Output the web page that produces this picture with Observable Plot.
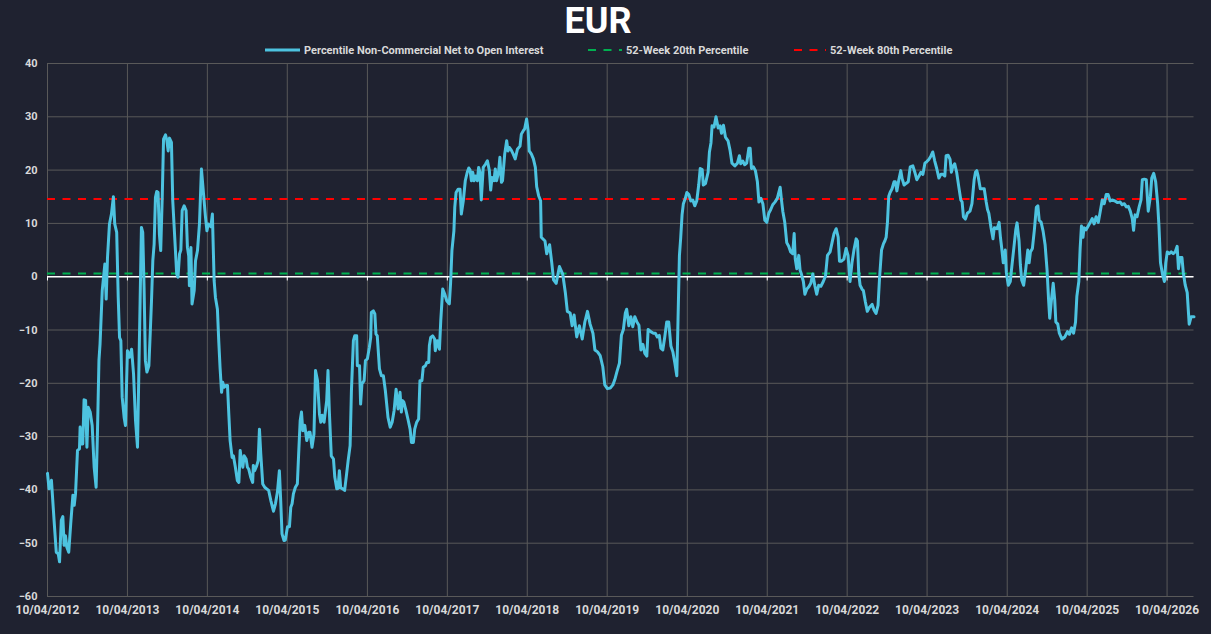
<!DOCTYPE html>
<html><head><meta charset="utf-8">
<script src="https://cdn.jsdelivr.net/npm/d3@7"></script>
<script src="https://cdn.jsdelivr.net/npm/@observablehq/plot@0.6"></script>
<style>
html,body{margin:0;padding:0;background:#1f2230;width:1211px;height:634px;overflow:hidden;font-family:Roboto,"DejaVu Sans",sans-serif}
#head{position:absolute;left:0;top:0}
#chart{position:absolute;left:0;top:58px}
</style></head>
<body>
<svg id="head" width="1211" height="58"></svg>
<div id="chart"></div>
<script>
const title = "EUR";
const seriesNames = ["Percentile Non-Commercial Net to Open Interest", "52-Week 20th Percentile", "52-Week 80th Percentile"];
const startDate = "10/04/2012";
const xTicks = ["10/04/2012","10/04/2013","10/04/2014","10/04/2015","10/04/2016","10/04/2017","10/04/2018","10/04/2019","10/04/2020","10/04/2021","10/04/2022","10/04/2023","10/04/2024","10/04/2025","10/04/2026"];
const yTicks = [-60,-50,-40,-30,-20,-10,0,10,20,30,40];
const pct20 = 0.6;
const pct80 = 14.6;
// weeks since start date
const weeks = [0,1,2.6,4.3,5.7,7,7.8,9,10,10.9,11.7,12.6,13.9,15.2,16.5,17.4,18.3,19.6,20.9,21.3,22.2,23,23.9,24.8,25.7,26.5,27.8,29.1,30.4,31.7,32.6,33.5,34.3,35.7,36.5,37.4,38.3,39.1,40.4,41.7,43,43.9,45.2,46.1,47,47.8,48.7,50,50.9,52.2,53.5,54.8,56.1,57.4,58.7,59.6,60.4,61.3,62.2,63,63.9,64.8,66.1,67,67.8,68.7,69.6,70.4,71.3,72.2,73,73.9,74.8,75.7,77,77.8,78.7,79.6,80.9,81.7,83,84.3,85.2,86.1,87,87.8,89.1,90.4,91.3,92.2,92.6,93.5,94.3,95.7,96.5,97.8,99.1,100.4,101.7,103,104,104.8,106.5,107.6,108.7,109.6,110.9,111.7,112.6,113.5,114.3,115.2,116.5,117.4,118.3,119.1,120.4,121.3,122.6,123.9,124.8,125.7,126.5,127.4,128.3,129.6,130.4,131.3,132.6,133.9,134.3,135.2,136.5,137.4,138.3,139.1,140.4,141.7,143,144.3,145.7,147.4,148.7,150,151.3,152.2,153,154.3,155.2,156.5,157.8,158.7,159.6,160.4,161.7,163,163.9,164.8,165.7,166.5,167.8,169.1,170.4,171.3,172.6,173.9,174.8,176.1,177.4,178.3,179.1,180.4,182.2,183,183.9,185.2,186.5,187.4,188.7,189.6,190.4,191.3,192.6,193.9,195.2,196.1,197.4,198.3,199.6,200.4,201.7,202.2,203.5,204.3,205.2,206.5,207.4,208.7,210,210.9,211.3,212.6,213.5,214.3,215.2,216.5,217.8,219.1,220.4,222.2,223.5,224.8,226.1,227.4,228.7,230,230.9,231.7,232.6,233.9,235.2,236.5,237.4,238.7,239.6,240.9,242.2,243,244.3,245.2,246.5,247.4,248.7,249.1,250,251.3,252.6,253,254.3,255.7,256.5,257.8,259.1,260.4,262.2,263,263.9,265.2,265.7,266.5,267.8,269.1,270,271.3,272.6,273.9,274.8,275.7,276.5,277.4,278.3,279.1,280.4,281.3,282.2,283,284.3,285.7,287,288.3,289.1,290,291.3,292.2,293,294.3,295.2,296.1,296.9,298.3,299.6,300.4,301.3,302.6,303.9,305.2,306.5,308.3,309.1,310.4,311.3,312.6,313.5,314.3,315.7,317,318.3,319.1,320.4,321.7,322.2,324.6,325.7,327.5,329,330.1,331.8,334,336.2,337.9,339.2,341,342.3,343.6,345.3,347,348.8,350.6,352.3,354,355.8,357.1,358.8,360.5,362.3,363.6,365.3,367.1,368.8,370.1,371.4,373.1,374.4,375.7,377,377.9,379.3,380.6,381.9,383.2,384.5,385.8,387.1,388.4,389.7,391,391.9,393.6,395.3,396.6,397.9,399.2,400.2,401.4,402.7,404,405.3,406.7,408,409.3,410.6,411.4,412.3,413.2,414,414.9,416.2,417.1,418.4,419.7,421,422.3,423.6,424.9,425.8,427.1,427.9,429.3,431,431.8,432.8,433.6,434.9,436.2,437.5,438.8,439.7,441,442.3,444,445.3,446.6,448.4,450.1,451.4,452.3,453.6,454.9,456.2,457.5,458.4,459.3,460.6,461.8,463.1,464.1,465.4,466.7,468,469.3,470.6,471.9,473.2,474.5,476.2,478,478.8,479.7,481,482.3,483.6,484.9,486.2,487.1,487.9,488.8,490.2,491,491.9,493.2,494.1,495.4,496.7,498,499.3,500.6,501.9,503.2,504.5,506.2,507.5,508.8,510.6,511.9,513.2,514.5,515.8,516.7,518,519.6,521,522.3,523.6,524.9,526.2,527.5,528.4,529.3,530.2,531.5,532.3,533.6,534.9,536.2,538,539.3,540.6,541.9,542.8,544.1,545.4,546.3,547.1,548,548.9,549.7,551,552.3,553.2,554.1,555.4,556.7,557.6,558.9,560.2,561.5,562.8,564.6,565.9,567.2,568.5,569.8,571.1,572.4,573.7,575,576.3,577.6,578.9,580.2,581.5,582.8,584.1,585.4,586.3,587.6,588.9,589.7,590.6,591.9,593.2,594.5,595.8,596.7,597.6,598.9,600.1,601.9,603.2,604.5,605.4,606.3,607.2,608.5,609.8,611.1,612.4,613.3,614.2,615.5,616.8,617.7,619.5,620.8,621.7,622.5,623.5,624.8,625.6,626.9,628.2,629.1,630.4,631.7,632.6,633.9,634.7,635.6,636.9,638.2,639.5,640.4,641.3,642.6,643.9,645.2,646.1,647,648.3,649.6,650.9,652.2,653.1,653.9,654.9,656.2,657.1,657.9,659.2,660.2,661.9,663.7,665.4,666.7,668.1,669.4,670.7,671.5,672.9,673.7,674.6,675.5,676.3,677.6,679,680.3,681.6,682.9,684.2,685.5,686.8,688.1,689.4,690.7,692,693.3,694.6,696.4,698.2,699.9,701.2,702.5,703.8,705.1,706.4,707.7,708.6,709.5,710.8,712.1,713.4,714.3,715.6,716.9,718.2,719.5,720.4,721.7,723,724.3,725.2,726.1,727.4,728.7,729.6,730.5,731.8,733.1,734.4,735.7,737,737.9,738.8,740.1,741,742.3,743.6,744.9,746.2,748];
const values = [-36.9,-39.8,-38.2,-45.7,-51.7,-52,-53.5,-45.7,-45,-50.4,-48.6,-50.7,-51.7,-46.4,-41,-42.9,-40.7,-32.6,-32.3,-28.2,-31.4,-31.4,-23.1,-23.2,-32,-24.5,-25.4,-27.9,-35.7,-39.5,-29.5,-15.7,-12.6,-2.6,-0.1,2.4,-4.2,3.6,9.9,11.75,15,9.9,8.3,-3.9,-11.4,-12,-22.6,-26.4,-27.9,-13.9,-15.1,-13.6,-18.3,-27,-32,-18.3,-4.5,9.25,8.3,-2,-15.7,-17.9,-16.7,-10.75,-4.5,3,6.1,14.9,16,15.8,8,4.9,14.9,25.8,26.6,25.6,23.6,26,25.2,14.25,7.4,0.5,-0.1,4.25,5,12.4,13.3,12.4,5.5,3.9,-1.7,5.5,-5.1,-2.6,3,4.9,9.9,20.2,15.8,11.4,8.6,9.9,9.4,11.75,-0.75,-3.9,-6.1,-12,-17,-21.7,-19.8,-20.75,-20.4,-20.4,-25.75,-30.75,-33.9,-33.6,-35.75,-38.25,-38.6,-32.6,-34.5,-35.75,-33.6,-34.2,-35.75,-36.1,-37.6,-38.6,-35.4,-36.4,-35.4,-34.5,-28.6,-33.25,-38.9,-39.5,-39.8,-40.1,-42,-44,-42.6,-40.4,-36.4,-42,-48.25,-49.5,-49.4,-46.9,-46.9,-43.25,-42.6,-40.75,-39.5,-38.9,-33.25,-27,-25.4,-28.9,-27.9,-30.75,-29.2,-29.2,-32,-29.5,-17.6,-19.5,-25.75,-27.3,-26,-27.3,-23.25,-17.6,-25.1,-33.6,-34.2,-37.6,-39.8,-39.7,-36.4,-39.6,-39.8,-40.1,-37,-34.5,-31.7,-21.4,-12,-11.1,-11.1,-16.7,-16.7,-23.9,-20.1,-19.5,-15.75,-15.4,-13.25,-11.4,-6.7,-6.4,-7,-10.75,-11.1,-17.3,-18.6,-18.6,-21.4,-26.4,-28.25,-27.3,-25.1,-21.1,-24.8,-21.7,-25.4,-23.25,-23.6,-25.1,-26.7,-28.6,-31.1,-31.1,-28.6,-27.3,-26.7,-19.5,-19.5,-17,-16.7,-16.1,-16.1,-12.9,-11.4,-11.1,-11.7,-13.9,-12,-13.6,-8.25,-2.3,-3.25,-4.5,-5.1,-1.1,4.9,8.6,13,15.8,16.4,16.4,11.75,14.25,18,19.6,20.4,20,18,19.6,18,18.9,18,20.5,19.6,14.4,20.5,21.1,21.75,19.9,16.25,18.6,18,20.2,18,19.6,22.4,17.7,18,23,25.5,23.6,24.25,23.75,23,22.1,23.9,24.5,26.75,27.4,27.7,29.6,27.4,23.6,23,22.1,20.5,16.9,15.2,14.25,7.4,6.7,4.3,6,2.6,-0.6,-1.25,1.9,0.5,-3,-6.5,-6.8,-9.2,-7.2,-11.3,-9.2,-11.7,-8.5,-6.5,-8.9,-10.6,-13.75,-14.1,-14.8,-16.9,-20.3,-21,-20.9,-20.3,-19.3,-17.9,-16.2,-11,-9.9,-6.8,-6.1,-9.2,-7.5,-9.4,-7.5,-8.5,-9.1,-13.75,-12.7,-14.4,-14.9,-9.9,-10.3,-10.6,-10.6,-11.3,-11,-13.4,-13.75,-11.3,-8.5,-8.5,-13,-14.1,-16.2,-18.6,-7.2,4,7.4,11.6,13.7,14.7,15.8,15.4,14.2,14.4,13.3,14.2,17.2,20.3,20.1,17.2,17.5,19.6,23.4,25.1,28.3,28.1,30,27.9,28.3,26.9,28.4,26.2,25.5,23.75,21.3,20.8,21.3,22.7,21.2,21.7,21,21.3,24.1,24.1,20.3,20.6,19.9,17.8,14,14.7,13.7,10.6,10.2,11.9,12.6,13.5,14,14.7,16.8,14.4,12.3,10.2,6.4,5.7,4.65,4.3,8.1,3.3,1.5,4,1.2,0.5,-0.9,-3.3,-2.3,-1.9,-1.25,0.5,-1.6,-3.3,-1.6,-1.8,-0.9,0.1,4,4.65,6.4,8.1,9,7.4,2.9,2.9,3.3,5.3,4,-0.9,2.6,5,7.1,6.7,0.5,-1.6,-2.4,-2.6,-4.7,-6.5,-5.8,-5.2,-6.3,-6.9,-5.4,-0.2,5,6.2,6.7,7.4,10.2,15.1,15.8,16.5,17.8,17.8,16.1,18.2,19.9,18.4,17.2,17.5,17.8,20.6,20.8,19.6,18.2,18.9,19.6,19.2,21.3,21.6,22,22.6,23.4,21.7,20.3,18.5,19.2,19.2,18.9,22.7,22.8,22,19.6,20.6,21.2,19.6,16.8,14.4,14,11.25,10.8,11.9,12.3,13.7,18.2,19.6,19.9,18.9,16.5,16.5,16.5,14,12.6,11.9,9.2,7.1,9.2,9,10.2,7.4,5.3,2.6,5,0.8,-1.6,-0.9,1.9,5.3,8.8,10.1,6.7,2.2,-0.6,-1.6,1.2,5,2.6,4.65,5.3,8.8,13,13.3,10.6,10.2,8.5,6,1.2,-4.4,-7.8,-4.7,-1.25,-4.4,-8.5,-8.9,-10.6,-11.7,-11.3,-10.3,-10.8,-9.6,-10.6,-8.5,-3.7,-0.9,5.3,9.5,7.4,9.2,8.8,9.5,10.2,10.9,9.9,11.25,10.2,12.3,14.4,13.7,15.4,15.4,14.2,14.4,14.2,13.9,14,13.5,13.7,13.1,13.2,12.3,10.9,8.7,11.6,11.25,13,14.4,18.2,18.3,18.2,12.3,15.1,18.5,19.4,17.8,13.7,9.5,2.6,0.5,-0.9,2.6,4.65,4.3,4.65,4.3,4.65,5.7,1.5,3.6,3.6,0.8,-1.6,-3,-8.9,-7.5,-7.5];

const parse = d3.utcParse("%d/%m/%Y");
const fmt = d3.utcFormat("%d/%m/%Y");
const start = parse(startDate);
const series = weeks.map((w, i) => ({date: d3.utcDay.offset(start, Math.round(w * 7)), value: values[i]}));
const xTickDates = xTicks.map(parse);

const colors = {line: "#4dc3e0", p20: "#00b050", p80: "#ff0000", grid: "#595959", text: "#d9d9d9"};
const dash = "8,7.5";

// Header: title + legend
const head = d3.select("#head");
head.append("text").attr("x", 598).attr("y", 32.5).attr("text-anchor", "middle")
  .attr("fill", "#ffffff").attr("font-size", 36).attr("font-weight", "bold")
  .attr("font-family", "Roboto, sans-serif").text(title);
const legendItems = [
  {name: seriesNames[0], color: colors.line, dash: null, x0: 265, x1: 300, tx: 304, width: 3},
  {name: seriesNames[1], color: colors.p20, dash: dash, x0: 588, x1: 622, tx: 626, width: 2},
  {name: seriesNames[2], color: colors.p80, dash: dash, x0: 794, x1: 826, tx: 830, width: 2}
];
legendItems.forEach(it => {
  head.append("line").attr("x1", it.x0).attr("x2", it.x1).attr("y1", 50).attr("y2", 50)
    .attr("stroke", it.color).attr("stroke-width", it.width)
    .attr("stroke-dasharray", it.dash);
  head.append("text").attr("x", it.tx).attr("y", 54).attr("fill", colors.text)
    .attr("font-size", 11).attr("font-weight", "bold").attr("font-family", "Roboto, sans-serif")
    .text(it.name);
});

const chart = Plot.plot({
  width: 1211,
  height: 576,
  marginTop: 5,
  marginBottom: 38,
  marginLeft: 47,
  marginRight: 17.5,
  style: {background: "transparent", color: colors.text, fontFamily: "Roboto, sans-serif", fontWeight: "bold"},
  x: {type: "utc", domain: [xTickDates[0], series[series.length - 1].date]},
  y: {domain: [yTicks[0], yTicks[yTicks.length - 1]]},
  marks: [
    Plot.ruleY(yTicks, {stroke: colors.grid, strokeWidth: 1}),
    Plot.ruleX(xTickDates, {stroke: colors.grid, strokeWidth: 1}),
    Plot.ruleY([0], {stroke: "#ffffff", strokeWidth: 1.5}),
    Plot.ruleX(xTickDates, {y1: 0, y2: -0.8, stroke: "#ffffff", strokeWidth: 1}),
    Plot.ruleY([pct20], {stroke: colors.p20, strokeWidth: 2, strokeDasharray: dash}),
    Plot.ruleY([pct80], {stroke: colors.p80, strokeWidth: 2, strokeDasharray: dash}),
    Plot.line(series, {x: "date", y: "value", stroke: colors.line, strokeWidth: 3, strokeLinejoin: "round"}),
    Plot.axisY(yTicks, {tickSize: 0, tickPadding: 10, fontSize: 11, fontWeight: "bold", fill: colors.text, label: null}),
    Plot.axisX(xTickDates, {tickSize: 0, tickPadding: 9, fontSize: 12, fontWeight: "bold", fill: colors.text, tickFormat: fmt, label: null, anchor: "bottom"})
  ]
});
document.getElementById("chart").appendChild(chart);
</script>
</body></html>
